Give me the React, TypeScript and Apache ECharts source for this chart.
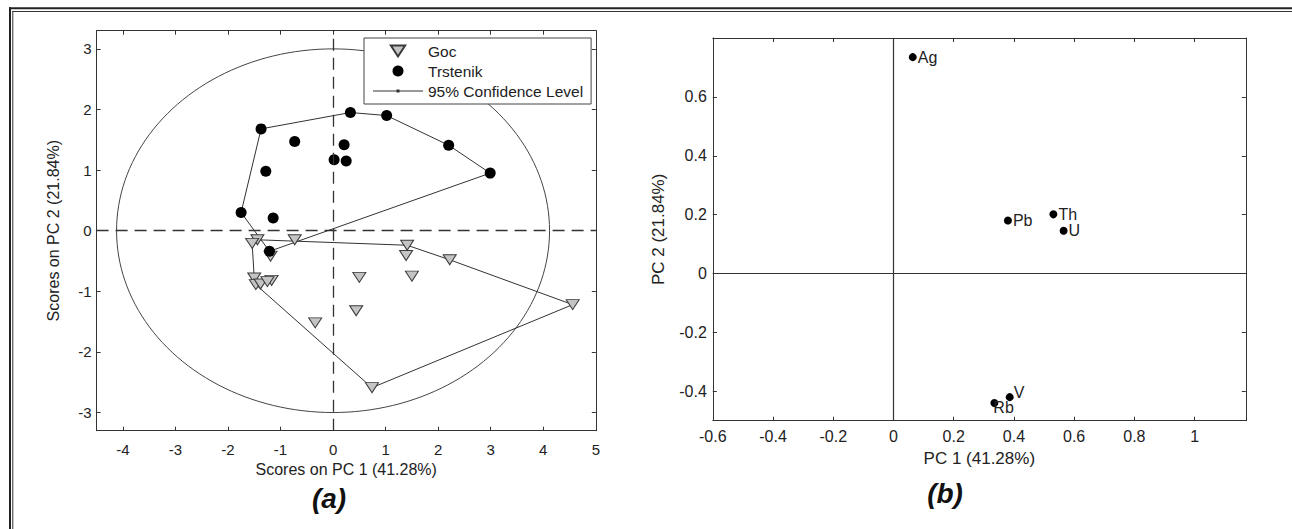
import React, { useEffect, useRef } from "react";
import * as echarts from "echarts";

// ---------- Panel (a): PCA scores ----------
const gocScores: [number, number][] = [
  [-1.44, -0.15],
  [-1.54, -0.21],
  [-0.73, -0.15],
  [1.41, -0.24],
  [1.39, -0.41],
  [2.22, -0.48],
  [-1.19, -0.42],
  [-1.5, -0.78],
  [-1.47, -0.89],
  [-1.38, -0.88],
  [-1.17, -0.82],
  [-1.25, -0.84],
  [0.5, -0.77],
  [1.5, -0.75],
  [0.44, -1.32],
  [-0.34, -1.52],
  [0.74, -2.59],
  [4.56, -1.22],
];
const trstenikScores: [number, number][] = [
  [-1.37, 1.68],
  [0.33, 1.95],
  [1.02, 1.9],
  [2.2, 1.41],
  [2.99, 0.95],
  [-0.73, 1.47],
  [0.21, 1.42],
  [0.02, 1.17],
  [0.25, 1.15],
  [-1.28, 0.98],
  [-1.75, 0.3],
  [-1.14, 0.21],
  [-1.21, -0.34],
];
// convex hull vertex order (indices into the arrays above)
const gocHull = [0, 3, 5, 17, 16, 8, 7, 1, 0];
const trstenikHull = [0, 1, 2, 3, 4, 12, 10, 0];
// 95% confidence ellipse semi-axes
const ellipseRx = 4.12;
const ellipseRy = 3.0;
const scoreXTicks = [-4, -3, -2, -1, 0, 1, 2, 3, 4, 5];
const scoreYTicks = [-3, -2, -1, 0, 1, 2, 3];

// ---------- Panel (b): PCA loadings ----------
const loadingNames = ["Ag", "Pb", "Th", "U", "V", "Rb"];
const loadingPC1 = [0.064, 0.38, 0.531, 0.565, 0.386, 0.335];
const loadingPC2 = [0.735, 0.18, 0.201, 0.145, -0.42, -0.44];
const loadingXTicks = [-0.6, -0.4, -0.2, 0, 0.2, 0.4, 0.6, 0.8, 1];
const loadingYTicks = [-0.4, -0.2, 0, 0.2, 0.4, 0.6];

const FONT = "'Liberation Sans', Arial, Helvetica, sans-serif";
const AXIS_COLOR = "#333";

function makeAxis(
  gridIndex: number,
  position: string,
  min: number,
  max: number,
  ticks: number[],
  showLabel: boolean,
  fontSize: number,
  margin: number
) {
  return {
    type: "value",
    gridIndex,
    position,
    min,
    max,
    axisLine: { show: true, onZero: false, lineStyle: { color: AXIS_COLOR, width: 1 } },
    axisTick: {
      show: true,
      inside: true,
      length: 4,
      customValues: ticks,
      lineStyle: { color: AXIS_COLOR, width: 1 },
    },
    axisLabel: {
      show: showLabel,
      customValues: ticks,
      fontSize,
      color: "#222",
      fontFamily: FONT,
      margin,
    },
    splitLine: { show: false },
  };
}

function buildEllipse(): [number, number][] {
  const pts: [number, number][] = [];
  const n = 180;
  for (let i = 0; i <= n; i++) {
    const t = (i / n) * Math.PI * 2;
    pts.push([ellipseRx * Math.cos(t), ellipseRy * Math.sin(t)]);
  }
  return pts;
}

function buildOption() {
  const xA0 = { ...makeAxis(0, "bottom", -4.5, 5, scoreXTicks, true, 15, 11) } as any;
  xA0.name = "Scores on PC 1 (41.28%)";
  xA0.nameLocation = "middle";
  xA0.nameGap = 22;
  xA0.nameTextStyle = { fontSize: 16, color: "#222", fontFamily: FONT };
  const yA0 = { ...makeAxis(0, "left", -3.3, 3.3, scoreYTicks, true, 15, 5) } as any;
  yA0.name = "Scores on PC 2 (21.84%)";
  yA0.nameLocation = "middle";
  yA0.nameGap = 35;
  yA0.nameTextStyle = { fontSize: 16, color: "#222", fontFamily: FONT };

  const xA2 = { ...makeAxis(1, "bottom", -0.6, 1.17, loadingXTicks, true, 16, 8) } as any;
  xA2.name = "PC 1 (41.28%)";
  xA2.nameLocation = "middle";
  xA2.nameGap = 27;
  xA2.nameTextStyle = { fontSize: 17, color: "#222", fontFamily: FONT };
  const yA2 = { ...makeAxis(1, "left", -0.5, 0.8, loadingYTicks, true, 16, 6) } as any;
  yA2.name = "PC 2 (21.84%)";
  yA2.nameLocation = "middle";
  yA2.nameGap = 46;
  yA2.nameTextStyle = { fontSize: 17, color: "#222", fontFamily: FONT };

  const loadingData = loadingNames.map((n, i) => ({
    name: n,
    value: [loadingPC1[i], loadingPC2[i]],
    label:
      n === "V"
        ? { offset: [-1, -5] }
        : n === "Rb"
        ? { offset: [-6, 4] }
        : undefined,
  }));

  return {
    animation: false,
    backgroundColor: "#fff",
    textStyle: { fontFamily: FONT },
    grid: [
      { left: 96.6, top: 30.7, width: 499.2, height: 400 },
      { left: 712.8, top: 38, width: 533, height: 382.7 },
    ],
    xAxis: [
      xA0,
      makeAxis(0, "top", -4.5, 5, scoreXTicks, false, 14, 8),
      xA2,
      makeAxis(1, "top", -0.6, 1.17, loadingXTicks, false, 15, 8),
    ],
    yAxis: [
      yA0,
      makeAxis(0, "right", -3.3, 3.3, scoreYTicks, false, 14, 5),
      yA2,
      makeAxis(1, "right", -0.5, 0.8, loadingYTicks, false, 15, 6),
    ],
    legend: {
      data: [
        { name: "Goc", icon: "path://M0,0 L13,0 L6.5,10 Z" },
        { name: "Trstenik", icon: "circle" },
        {
          name: "95% Confidence Level",
          icon: "path://M0,1 L50,1 L50,2 L0,2 Z M23.5,0 L26.5,0 L26.5,3 L23.5,3 Z",
        },
      ],
      orient: "vertical",
      left: 364,
      top: 38,
      itemWidth: 50,
      itemHeight: 11,
      itemGap: 2,
      padding: [4, 8, 4, 9],
      borderColor: "#444",
      borderWidth: 1,
      borderRadius: 0,
      backgroundColor: "#fff",
      symbolKeepAspect: true,
      textStyle: { fontSize: 15.5, lineHeight: 18, color: "#222", fontFamily: FONT },
      selectedMode: false,
    },
    series: [
      {
        name: "95% Confidence Level",
        type: "line",
        xAxisIndex: 0,
        yAxisIndex: 0,
        data: buildEllipse(),
        showSymbol: false,
        symbol: "none",
        smooth: false,
        lineStyle: { color: "#444", width: 1 },
        itemStyle: { color: "#333" },
        silent: true,
        z: 1,
        markLine: {
          silent: true,
          symbol: ["none", "none"],
          label: { show: false },
          lineStyle: { color: "#333", width: 1.3, type: [12, 7] },
          data: [{ xAxis: 0 }, { yAxis: 0 }],
        },
      },
      {
        name: "gocHull",
        type: "line",
        xAxisIndex: 0,
        yAxisIndex: 0,
        data: gocHull.map((i) => gocScores[i]),
        showSymbol: false,
        symbol: "none",
        lineStyle: { color: "#333", width: 1 },
        silent: true,
        z: 2,
      },
      {
        name: "trstenikHull",
        type: "line",
        xAxisIndex: 0,
        yAxisIndex: 0,
        data: trstenikHull.map((i) => trstenikScores[i]),
        showSymbol: false,
        symbol: "none",
        lineStyle: { color: "#333", width: 1 },
        silent: true,
        z: 2,
      },
      {
        name: "Goc",
        type: "scatter",
        xAxisIndex: 0,
        yAxisIndex: 0,
        data: gocScores,
        symbol: "triangle",
        symbolRotate: 180,
        symbolSize: [13, 10],
        itemStyle: { color: "#c4c4c4", borderColor: "#3a3a3a", borderWidth: 1, opacity: 1 },
        z: 3,
      },
      {
        name: "Trstenik",
        type: "scatter",
        xAxisIndex: 0,
        yAxisIndex: 0,
        data: trstenikScores,
        symbol: "circle",
        symbolSize: 11,
        itemStyle: { color: "#000", opacity: 1 },
        z: 4,
      },
      {
        name: "loadings",
        type: "scatter",
        xAxisIndex: 2,
        yAxisIndex: 2,
        data: loadingData,
        symbol: "circle",
        symbolSize: 8,
        itemStyle: { color: "#000", opacity: 1 },
        label: {
          show: true,
          position: "right",
          distance: 1,
          formatter: "{b}",
          fontSize: 16,
          color: "#222",
          fontFamily: FONT,
        },
        z: 4,
        markLine: {
          silent: true,
          symbol: ["none", "none"],
          label: { show: false },
          lineStyle: { color: "#333", width: 1.2, type: "solid" },
          data: [{ xAxis: 0 }, { yAxis: 0 }],
        },
      },
    ],
    graphic: [
      // outer double frame
      { type: "line", shape: { x1: 9, y1: 8.3, x2: 1292, y2: 8.3 }, style: { stroke: "#222", lineWidth: 2 } },
      { type: "line", shape: { x1: 10, y1: 7.3, x2: 10, y2: 529 }, style: { stroke: "#222", lineWidth: 2 } },
      { type: "line", shape: { x1: 12.3, y1: 11.5, x2: 1292, y2: 11.5 }, style: { stroke: "#333", lineWidth: 1 } },
      { type: "line", shape: { x1: 12.8, y1: 11, x2: 12.8, y2: 529 }, style: { stroke: "#333", lineWidth: 1 } },
      {
        type: "text",
        x: 329,
        y: 498,
        style: {
          text: "(a)",
          fontSize: 28,
          fontWeight: "bold",
          fontStyle: "italic",
          fontFamily: FONT,
          fill: "#111",
          align: "center",
          verticalAlign: "middle",
        },
      },
      {
        type: "text",
        x: 945,
        y: 493,
        style: {
          text: "(b)",
          fontSize: 28,
          fontWeight: "bold",
          fontStyle: "italic",
          fontFamily: FONT,
          fill: "#111",
          align: "center",
          verticalAlign: "middle",
        },
      },
    ],
  };
}

export default function App() {
  const ref = useRef<HTMLDivElement>(null);
  useEffect(() => {
    document.body.style.margin = "0";
    const chart = echarts.init(ref.current!, null, { renderer: "svg" });
    chart.setOption(buildOption() as any);
    return () => chart.dispose();
  }, []);
  return <div ref={ref} style={{ width: 1292, height: 529 }} />;
}
